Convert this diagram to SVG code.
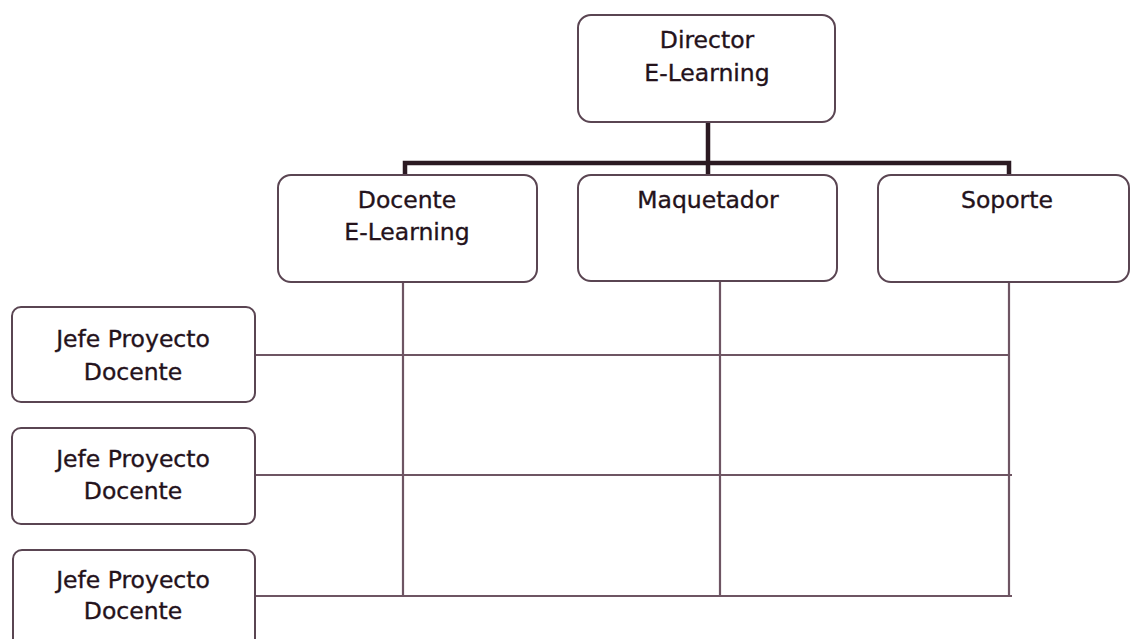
<svg xmlns="http://www.w3.org/2000/svg" width="1131" height="639" viewBox="0 0 1131 639">
<style>
.box{fill:#fff;stroke:#5a4552;stroke-width:2}
.t{font-family:"DejaVu Sans",Verdana,sans-serif;font-size:23.5px;fill:#24121b;stroke:#24121b;stroke-width:0.35;text-anchor:middle}
.thin{stroke:#6e5563;stroke-width:2.2;fill:none}
.thick{stroke:#2b1a22;stroke-width:4.5;fill:none}
</style>
<rect width="1131" height="639" fill="#fff"/>
<g id="connectors">
<path class="thick" d="M708 122V165M405 175V163H1009V175M708 163V175"/>
<path class="thin" d="M403 282V596M720 281V596M1009 282V596"/>
<path class="thin" d="M255 355H1010M255 475H1012M255 596H1012"/>
</g>
<g id="director">
<rect class="box" x="578" y="15" width="257" height="107" rx="13"/>
<text class="t" x="707" y="48">Director</text>
<text class="t" x="707" y="81">E-Learning</text>
</g>
<g id="docente">
<rect class="box" x="278" y="175" width="259" height="107" rx="13"/>
<text class="t" x="407" y="208">Docente</text>
<text class="t" x="407" y="240">E-Learning</text>
</g>
<g id="maquetador">
<rect class="box" x="578" y="175" width="259" height="106" rx="13"/>
<text class="t" x="708" y="208">Maquetador</text>
</g>
<g id="soporte">
<rect class="box" x="878" y="175" width="251" height="107" rx="13"/>
<text class="t" x="1007" y="208">Soporte</text>
</g>
<g id="jefe1">
<rect class="box" x="12" y="307" width="243" height="95" rx="9"/>
<text class="t" x="133" y="347">Jefe Proyecto</text>
<text class="t" x="133" y="380">Docente</text>
</g>
<g id="jefe2">
<rect class="box" x="12" y="428" width="243" height="96" rx="9"/>
<text class="t" x="133" y="467">Jefe Proyecto</text>
<text class="t" x="133" y="499">Docente</text>
</g>
<g id="jefe3">
<rect class="box" x="13" y="550" width="242" height="100" rx="9"/>
<text class="t" x="133" y="588">Jefe Proyecto</text>
<text class="t" x="133" y="619">Docente</text>
</g>
</svg>
